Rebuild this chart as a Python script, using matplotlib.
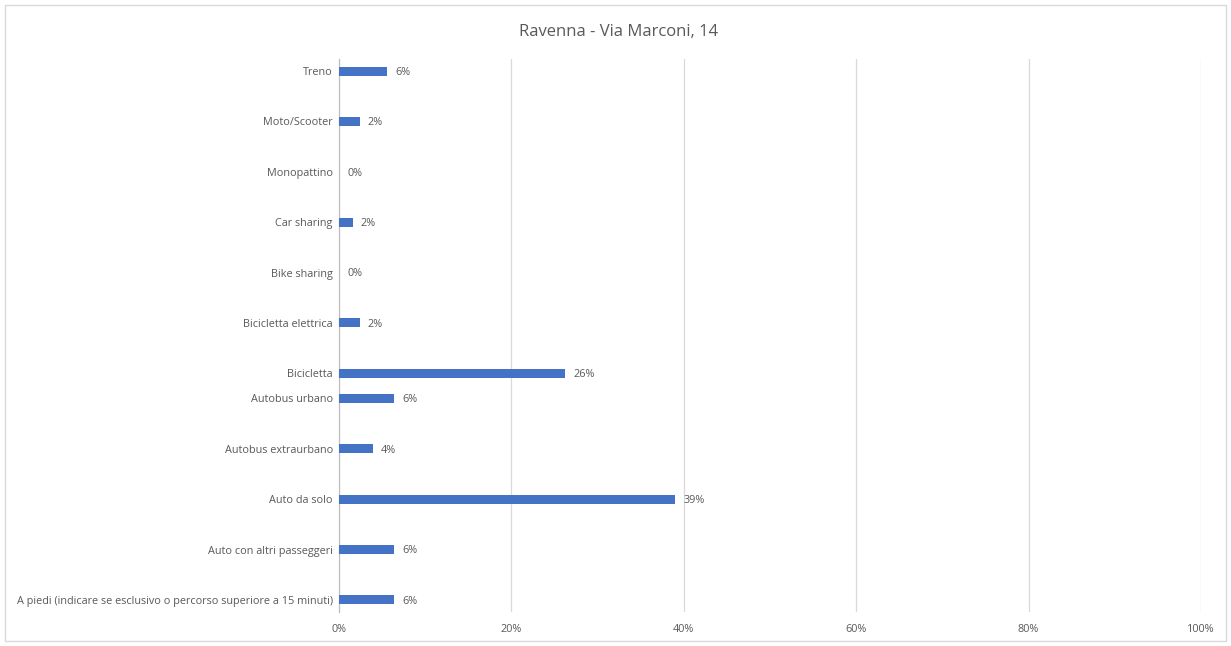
import matplotlib
matplotlib.use("Agg")
import matplotlib.pyplot as plt
import numpy as np
from matplotlib.patches import Rectangle

# Categories bottom-to-top; empty strings are blank category slots
categories = [
    "A piedi (indicare se esclusivo o percorso superiore a 15 minuti)", "",
    "Auto con altri passeggeri", "",
    "Auto da solo", "",
    "Autobus extraurbano", "",
    "Autobus urbano",
    "Bicicletta", "",
    "Bicicletta elettrica", "",
    "Bike sharing", "",
    "Car sharing", "",
    "Monopattino", "",
    "Moto/Scooter", "",
    "Treno",
]
values = [
    6.4, np.nan,
    6.4, np.nan,
    39.0, np.nan,
    3.9, np.nan,
    6.4,
    26.2, np.nan,
    2.4, np.nan,
    0.0, np.nan,
    1.6, np.nan,
    0.0, np.nan,
    2.4, np.nan,
    5.6,
]
xticks = [0, 20, 40, 60, 80, 100]
title = "Ravenna - Via Marconi, 14"

plt.rcParams['font.family'] = ['Liberation Sans Narrow', 'Open Sans', 'DejaVu Sans']

fig = plt.figure(figsize=(12.31, 6.46), dpi=100)
fig.patches.append(Rectangle((0.004, 0.008), 0.992, 0.984, transform=fig.transFigure,
                             fill=False, edgecolor="#d9d9d9", linewidth=1))
ax = fig.add_axes([0.2754, 0.0519, 0.7002, 0.8575])

y = np.arange(len(categories))
vals = np.array(values, dtype=float)
mask = ~np.isnan(vals)
ax.barh(y[mask], vals[mask], height=0.36, color="#4472c4", zorder=3)
for yi, v in zip(y[mask], vals[mask]):
    ax.text(v + 0.95, yi - 0.05, f"{round(v):.0f}%", va="center", ha="left",
            fontsize=7.8, color="#595959")

ax.set_ylim(-0.5, len(categories) - 0.5)
ax.set_xlim(0, 100)
ax.set_yticks(y)
ax.set_yticklabels(categories, fontsize=7.8, color="#595959")
ax.set_xticks(xticks)
ax.set_xticklabels([f"{t}%" for t in xticks], fontsize=7.8, color="#595959")
ax.tick_params(axis="both", length=0)
ax.tick_params(axis="x", pad=8)
ax.tick_params(axis="y", pad=4.5)
ax.grid(axis="x", color="#d9d9d9", linewidth=0.9, zorder=0)
for s in ["top", "right", "bottom"]:
    ax.spines[s].set_visible(False)
ax.spines["left"].set_color("#bfbfbf")
ax.spines["left"].set_linewidth(0.9)

fig.text(0.5025, 0.950, title, ha="center", va="center", fontsize=12, color="#595959")

fig.savefig("out.png", dpi=100)
